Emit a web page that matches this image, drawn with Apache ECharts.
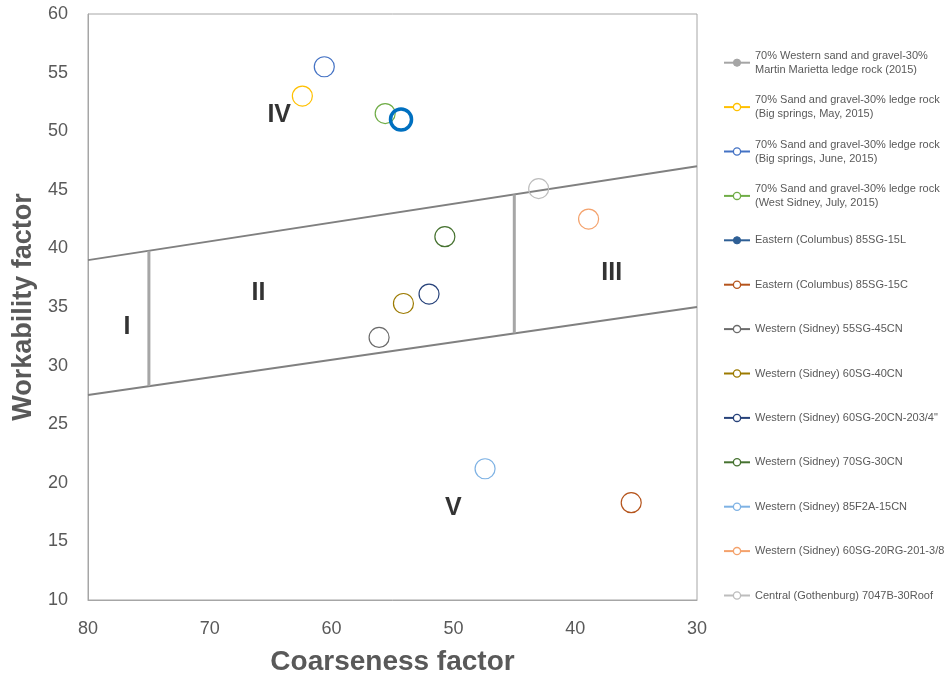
<!DOCTYPE html>
<html>
<head>
<meta charset="utf-8">
<script src="https://cdn.jsdelivr.net/npm/echarts@6/dist/echarts.min.js"></script>
<style>
html,body{margin:0;padding:0;background:#fff;overflow:hidden;}
#chart{width:950px;height:678px;}
</style>
</head>
<body>
<div id="chart"></div>
<script>
// ---- data ----
const seriesNames = [
  '70% Western sand and gravel-30%\nMartin Marietta ledge rock (2015)',
  '70% Sand and gravel-30% ledge rock\n(Big springs, May, 2015)',
  '70% Sand and gravel-30% ledge rock\n(Big springs, June, 2015)',
  '70% Sand and gravel-30% ledge rock\n(West Sidney, July, 2015)',
  'Eastern (Columbus) 85SG-15L',
  'Eastern (Columbus) 85SG-15C',
  'Western (Sidney) 55SG-45CN',
  'Western (Sidney) 60SG-40CN',
  'Western (Sidney) 60SG-20CN-203/4"',
  'Western (Sidney) 70SG-30CN',
  'Western (Sidney) 85F2A-15CN',
  'Western (Sidney) 60SG-20RG-201-3/8',
  'Central (Gothenburg) 7047B-30Roof'
];
const seriesColors = ['#A5A5A5','#FFC000','#4472C4','#70AD47','#0070C0','#B5541C','#6B6B6B','#9C7A00','#27427A','#467230','#7EB2E4','#F4A26C','#BDBDBD'];
const coarseness = [null, 62.4, 60.6, 55.6, 54.3, 35.4, 56.1, 54.1, 52.0, 50.7, 47.4, 38.9, 43.0];
const workability = [null, 53.0, 55.5, 51.5, 51.0, 18.3, 32.4, 35.3, 36.1, 41.0, 21.2, 42.5, 45.1];

const upperBoundary = [[80, 39], [30, 47]];
const lowerBoundary = [[80, 27.5], [30, 35]];
const divider1 = [[75, 39.8], [75, 28.25]];
const divider2 = [[45, 44.6], [45, 32.75]];

const zoneLabels = [[76.8, 33.3, 'I'], [66.0, 36.2, 'II'], [37.0, 37.9, 'III'], [64.3, 51.4, 'IV'], [50.0, 17.8, 'V']];

const xTicks = [30, 80, 10];
const yTicks = [10, 60, 5];

// ---- chart ----
const chart = echarts.init(document.getElementById('chart'), null, {renderer: 'canvas'});
const FONT = 'Liberation Sans';

const series = [];
const boundaryStyle = {color: '#808080', width: 2};
const dividerStyle = {color: '#A6A6A6', width: 3};
[[upperBoundary, boundaryStyle], [lowerBoundary, boundaryStyle], [divider1, dividerStyle], [divider2, dividerStyle]].forEach(function (b, i) {
  series.push({
    name: 'boundary' + i, type: 'line', data: b[0], showSymbol: false, symbol: 'none',
    lineStyle: b[1], silent: true, z: 1, animation: false
  });
});
series.push({
  name: 'zones', type: 'scatter', data: zoneLabels, symbolSize: 0, silent: true, animation: false,
  label: {show: true, position: 'inside', formatter: function (p) { return p.data[2]; },
    fontFamily: FONT, fontWeight: 'bold', fontSize: 25, color: '#000', textBorderWidth: 0}
});

seriesNames.forEach(function (name, i) {
  const data = coarseness[i] === null ? [] : [[coarseness[i], workability[i]]];
  const thick = i === 4;
  series.push({
    name: name, type: 'line', data: data,
    symbol: 'circle',
    symbolSize: thick ? 21 : 20, showSymbol: true, animation: false, z: 3,
    lineStyle: {color: thick ? '#2E5F95' : seriesColors[i], width: 2},
    itemStyle: {color: i === 0 ? seriesColors[i] : 'rgba(255,255,255,0)', borderColor: seriesColors[i], borderWidth: thick ? 3.5 : 1.2, opacity: 1}
  });
});

const legends = seriesNames.map(function (name, i) {
  const twoLine = name.indexOf('\n') >= 0;
  const center = 62.7 + i * 44.4;
  const item = {name: name};
  if (i === 4) item.itemStyle = {color: '#2E5F95', borderColor: '#2E5F95', borderWidth: 1};
  else if (i === 0) item.itemStyle = {color: seriesColors[0], borderColor: seriesColors[0], borderWidth: 1};
  else item.itemStyle = {color: '#fff', borderColor: seriesColors[i], borderWidth: 1.3};
  return {
    data: [item], orient: 'vertical', left: 723, top: twoLine ? center - 21 : center - 7,
    itemWidth: 26, itemHeight: 9, itemGap: 0, padding: 0, selectedMode: false,
    textStyle: {fontFamily: FONT, fontSize: 11, color: '#595959', lineHeight: 14,
      padding: twoLine ? [14, 0, 0, 0] : 0}
  };
});

chart.setOption({
  backgroundColor: '#fff',
  animation: false,
  grid: {left: 88, right: 253, top: 14, bottom: 78, show: true, borderColor: '#A6A6A6', borderWidth: 1,
    containLabel: false, outerBoundsMode: 'none'},
  legend: legends,
  xAxis: {
    type: 'value', min: xTicks[0], max: xTicks[1], interval: xTicks[2], inverse: true,
    name: 'Coarseness factor', nameLocation: 'middle', nameGap: 48,
    nameTextStyle: {fontFamily: FONT, fontWeight: 'bold', fontSize: 28, color: '#595959'},
    axisLine: {show: true, lineStyle: {color: '#A6A6A6'}}, axisTick: {show: false},
    splitLine: {show: false},
    axisLabel: {fontFamily: FONT, fontSize: 18, color: '#595959', margin: 20}
  },
  yAxis: {
    type: 'value', min: yTicks[0], max: yTicks[1], interval: yTicks[2],
    name: 'Workability factor', nameLocation: 'middle', nameGap: 36,
    nameTextStyle: {fontFamily: FONT, fontWeight: 'bold', fontSize: 27, color: '#595959'},
    axisLine: {show: true, lineStyle: {color: '#A6A6A6'}}, axisTick: {show: false},
    splitLine: {show: false},
    axisLabel: {fontFamily: FONT, fontSize: 18, color: '#595959', margin: 20}
  },
  series: series
});
</script>
</body>
</html>
